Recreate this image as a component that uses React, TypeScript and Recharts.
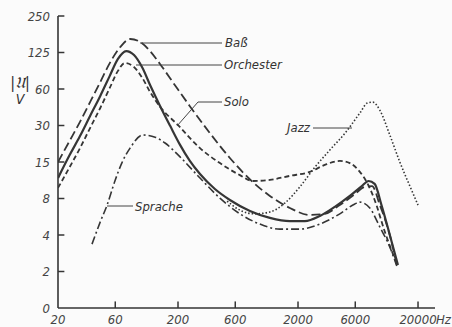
import { LineChart, Line, XAxis, YAxis, ReferenceLine } from 'recharts'

// frequency (Hz) and level (axis steps 0..8 => 0,2,4,8,15,30,60,125,250)
const orchesterHz = [20, 25, 30.5, 37, 45, 54, 63, 74, 86, 101, 117, 142, 172, 208, 251, 305, 406, 541, 795, 1166, 1711, 2280, 3041, 4050, 5405, 6800, 7750, 8700, 9920, 11640, 13600]
const orchesterLvl = [3.56, 4.19, 4.71, 5.26, 5.81, 6.36, 6.82, 7.04, 6.93, 6.58, 6.11, 5.53, 4.99, 4.47, 4.03, 3.67, 3.26, 2.96, 2.66, 2.47, 2.38, 2.38, 2.52, 2.77, 3.07, 3.34, 3.48, 3.4, 2.82, 2.0, 1.18]

const bassHz = [20, 25, 30.5, 37, 45, 54, 66, 80, 97, 117, 142, 188, 251, 369, 541, 840, 1166, 1711, 2510, 3340, 4462, 5950, 7200, 8280, 9610, 11640, 13300]
const bassLvl = [4.0, 4.58, 5.1, 5.64, 6.19, 6.71, 7.15, 7.37, 7.29, 7.04, 6.68, 6.11, 5.53, 4.79, 4.11, 3.45, 3.07, 2.74, 2.55, 2.58, 2.82, 3.12, 3.32, 3.34, 2.82, 2.0, 1.18]

const soloHz = [20, 25, 30.5, 37, 45, 54, 63, 72, 84, 101, 117, 142, 200, 305, 447, 656, 840, 1166, 1711, 2510, 3340, 4462, 5405, 6550, 7560, 8700, 10600, 13300]
const soloLvl = [3.29, 3.86, 4.38, 4.93, 5.48, 6.03, 6.49, 6.71, 6.63, 6.3, 5.92, 5.51, 5.01, 4.38, 3.97, 3.64, 3.48, 3.51, 3.62, 3.73, 3.92, 4.03, 3.97, 3.73, 3.42, 2.96, 2.08, 1.21]

const spracheHz = [38.4, 45, 51.3, 59.6, 68, 79.7, 102, 129, 156, 208, 305, 447, 656, 962, 1412, 2072, 3041, 4462, 5950, 6550, 7930, 9610, 11640, 13300]
const spracheLvl = [1.75, 2.36, 2.82, 3.48, 3.97, 4.38, 4.74, 4.68, 4.52, 4.14, 3.56, 3.01, 2.58, 2.3, 2.16, 2.16, 2.3, 2.58, 2.85, 2.9, 2.74, 2.22, 1.67, 1.15]

const jazzHz = [513, 656, 870, 1166, 1560, 2072, 2770, 3684, 4930, 6550, 7600, 8400, 9610, 11640, 14100, 17100, 20000]
const jazzLvl = [2.93, 2.68, 2.58, 2.63, 2.88, 3.32, 3.86, 4.33, 4.79, 5.34, 5.62, 5.64, 5.42, 4.74, 4.0, 3.34, 2.82]

const xTicks = [20, 60, 200, 600, 2000, 6000, 20000]
const yTicks = [0, 1, 2, 3, 4, 5, 6, 7, 8]
const yTickLabels = ['0', '2', '4', '8', '15', '30', '60', '125', '250']

const toRows = (hz: number[], lvl: number[]) => hz.map((f, i) => ({ f, v: lvl[i] }))

const ink = '#353535'
const font = '"DejaVu Sans Condensed", "DejaVu Sans", sans-serif'

function XTick({ x, y, payload }: any) {
  return (
    <g>
      <text x={x} y={y + 16} textAnchor="middle" fontSize={13} fontStyle="italic" fontFamily={font} fill="#444">
        {payload.value}
      </text>
      {payload.value === 20000 && (
        <text x={x + 18} y={y + 16} textAnchor="start" fontSize={13} fontStyle="italic" fontFamily={font} fill="#444">Hz</text>
      )}
    </g>
  )
}

function YTick({ x, y, payload }: any) {
  return (
    <text x={x - 8} y={y + 4.5} textAnchor="end" fontSize={13} fontStyle="italic" fontFamily={font} fill="#444">
      {yTickLabels[payload.value]}
    </text>
  )
}

const labelStyle = { fontSize: 13, fontStyle: 'italic', fontFamily: font, fill: '#333' } as const

export default function App() {
  return (
    <div style={{ position: 'absolute', left: 0, top: 0, width: 452, height: 327, background: '#fbfbfb' }}>
      <LineChart width={452} height={327} margin={{ top: 16, right: 17, bottom: 18, left: 57 }}>
        <XAxis
          dataKey="f"
          type="number"
          scale="log"
          domain={[20, 27700]}
          ticks={xTicks}
          allowDataOverflow
          height={1}
          tickSize={0}
          tickMargin={0}
          tickLine={false}
          tick={<XTick />}
          axisLine={{ stroke: ink, strokeWidth: 1.6 }}
          interval={0}
        />
        <YAxis
          type="number"
          domain={[0, 8]}
          ticks={yTicks}
          width={1}
          tickSize={0}
          tickMargin={0}
          tickLine={false}
          tick={<YTick />}
          axisLine={{ stroke: ink, strokeWidth: 1.6 }}
          interval={0}
        />
        {/* inward tick marks */}
        {xTicks.slice(1).map((t) => (
          <ReferenceLine key={'xt' + t} segment={[{ x: t, y: 0 }, { x: t, y: 0.18 }]} stroke={ink} strokeWidth={1.5} ifOverflow="visible" />
        ))}
        {yTicks.slice(1).map((t) => (
          <ReferenceLine key={'yt' + t} segment={[{ x: 20, y: t }, { x: 22.6, y: t }]} stroke={ink} strokeWidth={1.5} ifOverflow="visible" />
        ))}
        <Line data={toRows(bassHz, bassLvl)} dataKey="v" type="monotone" stroke={ink} strokeWidth={1.8} strokeDasharray="9 4" dot={false} isAnimationActive={false} />
        <Line data={toRows(soloHz, soloLvl)} dataKey="v" type="monotone" stroke={ink} strokeWidth={1.8} strokeDasharray="5 3" dot={false} isAnimationActive={false} />
        <Line data={toRows(spracheHz, spracheLvl)} dataKey="v" type="monotone" stroke={ink} strokeWidth={1.6} strokeDasharray="8 3 2 3" dot={false} isAnimationActive={false} />
        <Line data={toRows(jazzHz, jazzLvl)} dataKey="v" type="monotone" stroke={ink} strokeWidth={1.6} strokeDasharray="1.5 2" dot={false} isAnimationActive={false} />
        <Line data={toRows(orchesterHz, orchesterLvl)} dataKey="v" type="monotone" stroke={ink} strokeWidth={2.2} dot={false} isAnimationActive={false} />
      </LineChart>
      <svg width={452} height={327} style={{ position: 'absolute', left: 0, top: 0, pointerEvents: 'none' }}>
        <g stroke="#444" strokeWidth={1}>
          <line x1={140} y1={43} x2={222} y2={43} />
          <line x1={136} y1={65} x2={222} y2={65} />
          <polyline points="177,126 198,102 222,102" fill="none" />
          <line x1={313} y1={128} x2={352} y2={128} />
          <line x1={107} y1={206} x2={133} y2={206} />
        </g>
        <text x={225} y={47} {...labelStyle}>Baß</text>
        <text x={224} y={69} {...labelStyle}>Orchester</text>
        <text x={224} y={106} {...labelStyle}>Solo</text>
        <text x={310} y={132} textAnchor="end" {...labelStyle}>Jazz</text>
        <text x={135} y={211} {...labelStyle}>Sprache</text>
        <text x={20} y={88} textAnchor="middle" fontSize={16} fontStyle="italic" fontFamily={font} fill="#333">|𝔘|</text>
        <text x={20} y={104} textAnchor="middle" fontSize={14} fontStyle="italic" fontFamily={font} fill="#333">V</text>
      </svg>
    </div>
  )
}
